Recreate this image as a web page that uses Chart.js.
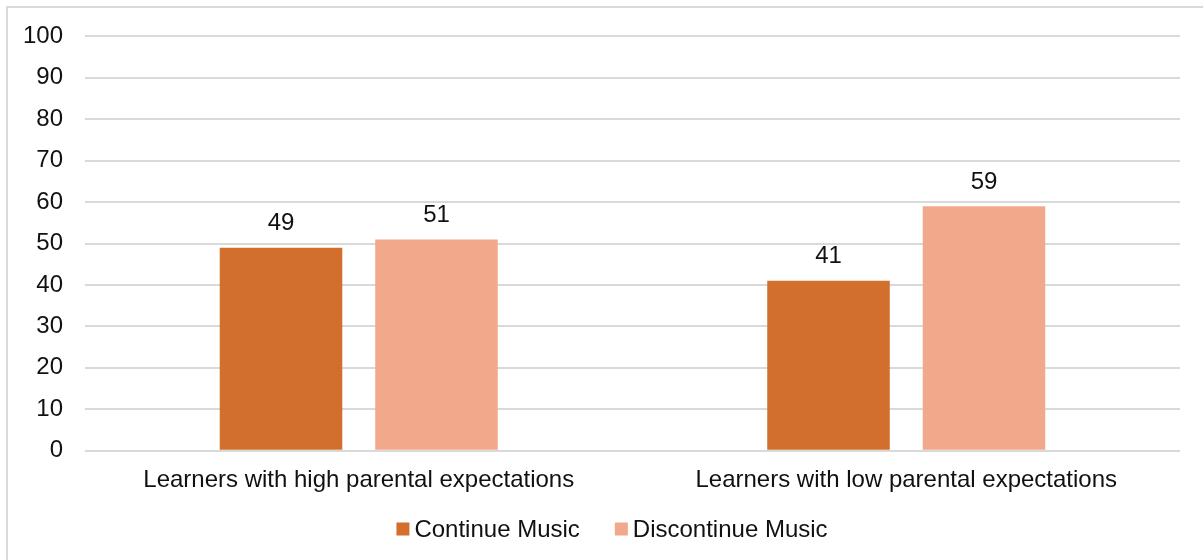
<!DOCTYPE html>
<html>
<head>
<meta charset="utf-8">
<script src="https://cdn.jsdelivr.net/npm/chart.js@4.4.1/dist/chart.umd.min.js"></script>
<style>
  html, body { margin: 0; padding: 0; background: #fff; overflow: hidden; }
  #wrap { position: relative; width: 1203px; height: 560px; overflow: hidden; }
  #frame { position: absolute; left: 6px; top: 6px; width: 1230px; height: 600px;
           border: 2px solid #d9d9d9; box-sizing: border-box; pointer-events: none; }
  canvas { position: absolute; left: 0; top: 0; }
</style>
</head>
<body>
<div id="wrap">
  <div id="frame"></div>
  <canvas id="chart" width="1203" height="560"></canvas>
</div>
<script>
// Share of learners who continue / discontinue music, by parental expectations
const categories = ['Learners with high parental expectations', 'Learners with low parental expectations'];
const continueMusic = [49, 41];
const discontinueMusic = [51, 59];
const seriesNames = ['Continue Music', 'Discontinue Music'];
const seriesColors = ['#D36F2C', '#F1A88B'];

const FONT = '"Liberation Sans", Arial, sans-serif';
const TEXT = '#111111';

// Value labels above each bar
const valueLabels = {
  id: 'valueLabels',
  afterDatasetsDraw(chart) {
    const ctx = chart.ctx;
    ctx.save();
    ctx.font = '24px ' + FONT;
    ctx.fillStyle = TEXT;
    ctx.textAlign = 'center';
    ctx.textBaseline = 'middle';
    chart.data.datasets.forEach((ds, i) => {
      chart.getDatasetMeta(i).data.forEach((bar, j) => {
        ctx.fillText(String(ds.data[j]), bar.x, bar.y - 24);
      });
    });
    ctx.restore();
  }
};

// Compact legend row under the axis
const bottomLegend = {
  id: 'bottomLegend',
  afterDraw(chart) {
    const ctx = chart.ctx;
    ctx.save();
    ctx.font = '24px ' + FONT;
    ctx.textBaseline = 'middle';
    ctx.textAlign = 'left';
    const box = 13, gapText = 5, gapItem = 35, cy = 529, cx = 612;
    const items = chart.data.datasets.map(ds => ({
      label: ds.label, color: ds.backgroundColor, w: ctx.measureText(ds.label).width
    }));
    let total = 0;
    items.forEach((it, i) => { total += box + gapText + it.w + (i ? gapItem : 0); });
    let x = cx - total / 2;
    items.forEach((it, i) => {
      if (i) x += gapItem;
      ctx.fillStyle = it.color;
      ctx.fillRect(x, cy - box / 2, box, box);
      x += box + gapText;
      ctx.fillStyle = TEXT;
      ctx.fillText(it.label, x, cy + 1);
      x += it.w;
    });
    ctx.restore();
  }
};

new Chart(document.getElementById('chart'), {
  type: 'bar',
  data: {
    labels: categories,
    datasets: [
      { label: seriesNames[0], data: continueMusic, backgroundColor: seriesColors[0] },
      { label: seriesNames[1], data: discontinueMusic, backgroundColor: seriesColors[1] }
    ]
  },
  options: {
    responsive: false,
    animation: false,
    devicePixelRatio: 1,
    categoryPercentage: 0.568,
    barPercentage: 0.788,
    layout: { padding: { left: 0, right: 23, top: 24, bottom: 50.5 } },
    plugins: {
      legend: { display: false },
      tooltip: { enabled: false }
    },
    scales: {
      x: {
        grid: { display: false, drawTicks: false },
        border: { display: false },
        ticks: { color: TEXT, font: { family: FONT, size: 24 }, padding: 15, maxRotation: 0 }
      },
      y: {
        min: 0,
        max: 100,
        afterFit(scale) { scale.width = 85; },
        grid: { color: '#d9d9d9', lineWidth: 2, drawTicks: false },
        border: { display: false },
        ticks: { stepSize: 10, color: TEXT, font: { family: FONT, size: 24 }, padding: 22 }
      }
    }
  },
  plugins: [valueLabels, bottomLegend]
});
</script>
</body>
</html>
